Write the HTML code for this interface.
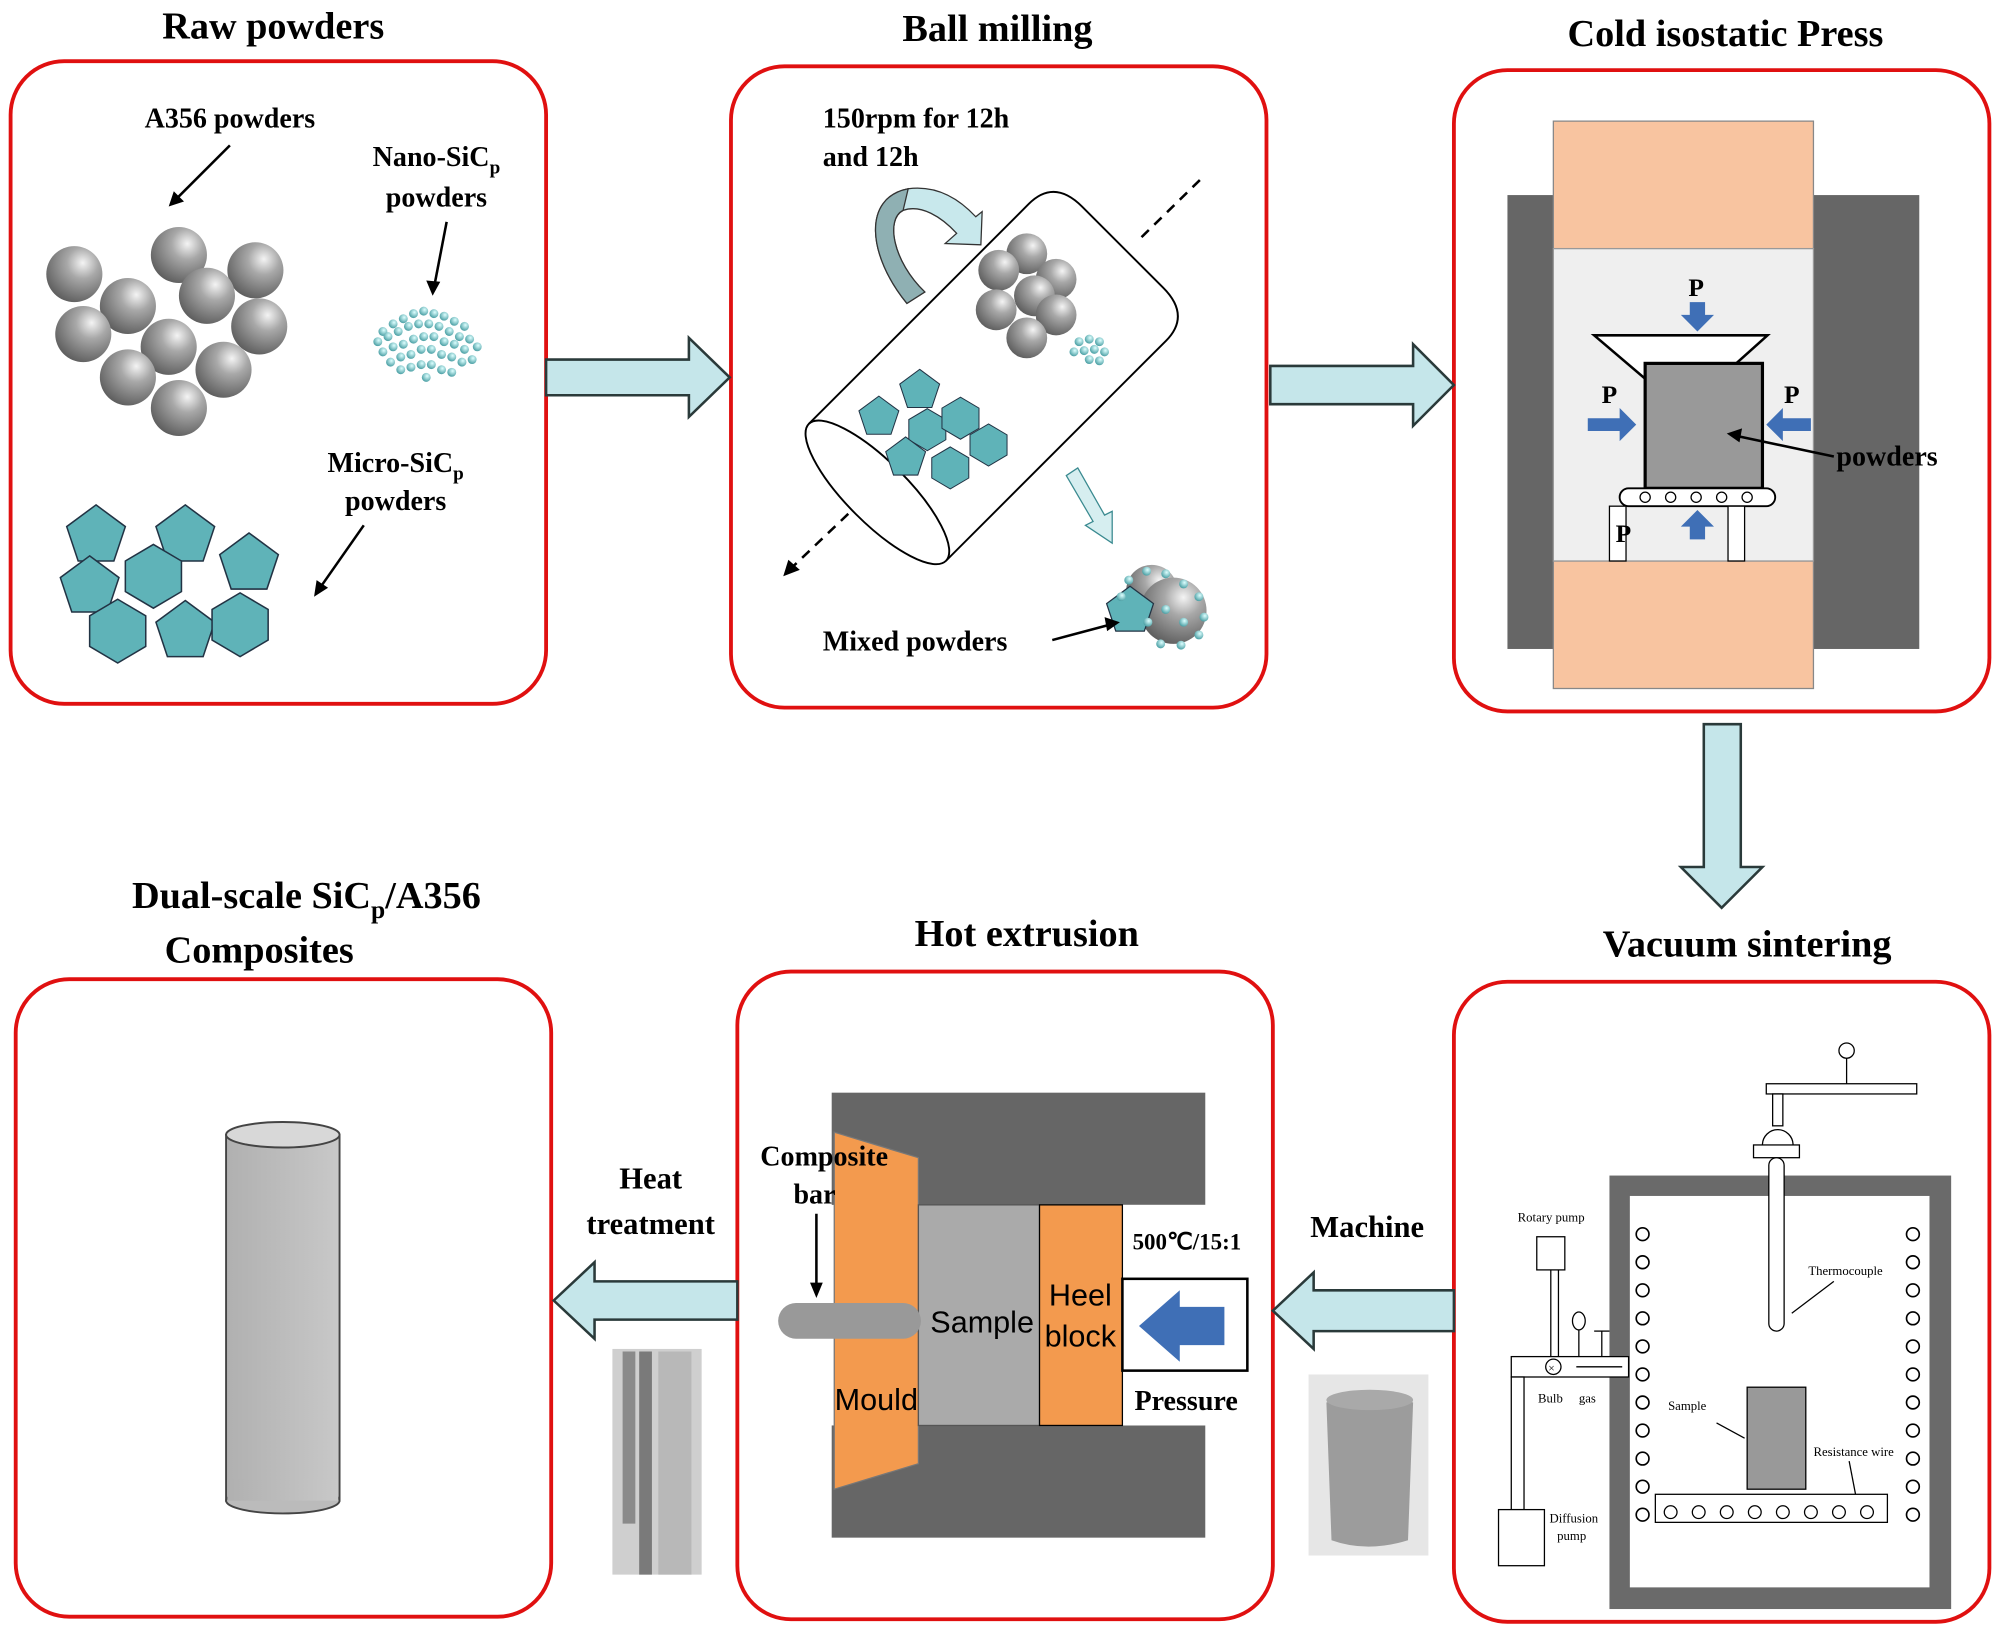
<!DOCTYPE html>
<html><head><meta charset="utf-8"><style>
html,body{margin:0;padding:0;background:#fff;}
svg{display:block;}
text{font-family:"Liberation Serif",serif;font-weight:bold;fill:#000;}
.s{font-family:"Liberation Serif",serif;font-weight:normal;}
</style></head><body>
<svg width="2000" height="1632" viewBox="0 0 1568 1280" xmlns="http://www.w3.org/2000/svg">
<defs>
<radialGradient id="sp" cx="0.65" cy="0.3" r="0.8">
<stop offset="0" stop-color="#f4f4f4"/><stop offset="0.35" stop-color="#a8a8a8"/><stop offset="1" stop-color="#555"/>
</radialGradient>
<radialGradient id="dt" cx="0.6" cy="0.35" r="0.8">
<stop offset="0" stop-color="#dff"/><stop offset="1" stop-color="#2a8a90"/>
</radialGradient>
<linearGradient id="cyl" x1="0" x2="1">
<stop offset="0" stop-color="#b0b0b0"/><stop offset="1" stop-color="#c8c8c8"/>
</linearGradient>
<g id="pent"><polygon points="0,-24 23,-7 14,20 -14,20 -23,-7" fill="#5fb3b8" stroke="#234" stroke-width="1.2"/></g>
<g id="hex"><polygon points="0,-25 22,-12 22,12 0,25 -22,12 -22,-12" fill="#5fb3b8" stroke="#234" stroke-width="1.2"/></g>
<g id="ball"><circle r="22" fill="url(#sp)"/></g>
<g id="nd"><circle r="3.5" fill="url(#dt)"/></g>
</defs>

<!-- titles -->
<text x="214" y="30" font-size="30" text-anchor="middle">Raw powders</text>
<text x="782" y="32" font-size="30" text-anchor="middle">Ball milling</text>
<text x="1353" y="36" font-size="30" text-anchor="middle">Cold isostatic Press</text>
<text x="1370" y="750" font-size="30" text-anchor="middle">Vacuum sintering</text>
<text x="805" y="742" font-size="30" text-anchor="middle">Hot extrusion</text>
<text x="240" y="712" font-size="30" text-anchor="middle">Dual-scale SiC<tspan font-size="20" dy="8">p</tspan><tspan dy="-8">/A356</tspan></text>
<text x="203" y="755" font-size="30" text-anchor="middle">Composites</text>

<!-- boxes -->
<g fill="none" stroke="#e01010" stroke-width="3">
<rect x="8" y="48" width="420" height="504" rx="42"/>
<rect x="573" y="52" width="420" height="503" rx="42"/>
<rect x="1140" y="55" width="420" height="503" rx="42"/>
<rect x="1140" y="770" width="420" height="502" rx="42"/>
<rect x="578" y="762" width="420" height="508" rx="42"/>
<rect x="12" y="768" width="420" height="500" rx="42"/>
</g>

<!-- arrows -->
<g fill="#c5e6ea" stroke="#2a3a3a" stroke-width="2">
<polygon points="428,282 540,282 540,265 572,296 540,327 540,310 428,310"/>
<polygon points="996,287 1108,287 1108,270 1140,302 1108,334 1108,317 996,317"/>
<polygon points="1336,568 1365,568 1365,680 1382,680 1350,712 1318,680 1336,680"/>
<polygon points="1140,1012 1030,1012 1030,998 998,1028 1030,1058 1030,1044 1140,1044"/>
<polygon points="578,1005 466,1005 466,990 434,1020 466,1050 466,1035 578,1035"/>
</g>

<!-- Box1 content -->
<text x="180" y="100" font-size="22" text-anchor="middle">A356 powders</text>
<line x1="180" y1="114" x2="136" y2="158" stroke="#000" stroke-width="2"/>
<polygon points="132,162 136,150 144,158" fill="#000"/>
<use href="#ball" x="58" y="215"/><use href="#ball" x="100" y="240"/><use href="#ball" x="140" y="200"/>
<use href="#ball" x="200" y="212"/><use href="#ball" x="162" y="232"/><use href="#ball" x="65" y="262"/>
<use href="#ball" x="132" y="272"/><use href="#ball" x="203" y="256"/><use href="#ball" x="100" y="296"/>
<use href="#ball" x="175" y="290"/><use href="#ball" x="140" y="320"/>
<text x="342" y="130" font-size="22" text-anchor="middle">Nano-SiC<tspan font-size="15" dy="6">p</tspan></text>
<text x="342" y="162" font-size="22" text-anchor="middle">powders</text>
<line x1="350" y1="174" x2="340" y2="226" stroke="#000" stroke-width="2"/>
<polygon points="339,232 334,220 345,221" fill="#000"/>
<g>
<use href="#nd" x="300" y="260"/><use href="#nd" x="308" y="254"/><use href="#nd" x="316" y="250"/><use href="#nd" x="324" y="246"/><use href="#nd" x="332" y="244"/><use href="#nd" x="340" y="246"/><use href="#nd" x="348" y="248"/><use href="#nd" x="356" y="252"/><use href="#nd" x="364" y="256"/>
<use href="#nd" x="296" y="268"/><use href="#nd" x="304" y="264"/><use href="#nd" x="312" y="260"/><use href="#nd" x="320" y="256"/><use href="#nd" x="328" y="254"/><use href="#nd" x="336" y="254"/><use href="#nd" x="344" y="256"/><use href="#nd" x="352" y="260"/><use href="#nd" x="360" y="264"/><use href="#nd" x="368" y="266"/><use href="#nd" x="374" y="272"/>
<use href="#nd" x="300" y="276"/><use href="#nd" x="308" y="272"/><use href="#nd" x="316" y="270"/><use href="#nd" x="324" y="266"/><use href="#nd" x="332" y="264"/><use href="#nd" x="340" y="264"/><use href="#nd" x="348" y="268"/><use href="#nd" x="356" y="270"/><use href="#nd" x="364" y="274"/><use href="#nd" x="370" y="282"/>
<use href="#nd" x="306" y="284"/><use href="#nd" x="314" y="280"/><use href="#nd" x="322" y="278"/><use href="#nd" x="330" y="274"/><use href="#nd" x="338" y="274"/><use href="#nd" x="346" y="278"/><use href="#nd" x="354" y="280"/><use href="#nd" x="362" y="284"/>
<use href="#nd" x="314" y="290"/><use href="#nd" x="322" y="288"/><use href="#nd" x="330" y="286"/><use href="#nd" x="338" y="286"/><use href="#nd" x="346" y="290"/><use href="#nd" x="354" y="292"/><use href="#nd" x="334" y="296"/>
</g>
<text x="310" y="370" font-size="22" text-anchor="middle">Micro-SiC<tspan font-size="15" dy="6">p</tspan></text>
<text x="310" y="400" font-size="22" text-anchor="middle">powders</text>
<line x1="285" y1="412" x2="250" y2="462" stroke="#000" stroke-width="2"/>
<polygon points="246,468 248,455 257,461" fill="#000"/>
<use href="#pent" x="75" y="420"/><use href="#pent" x="145" y="420"/><use href="#pent" x="195" y="442"/>
<use href="#pent" x="70" y="460"/><use href="#hex" x="120" y="452"/><use href="#hex" x="92" y="495"/>
<use href="#pent" x="145" y="495"/><use href="#hex" x="188" y="490"/>

<!-- Box2 content -->
<text x="645" y="100" font-size="22">150rpm for 12h</text>
<text x="645" y="130" font-size="22">and 12h</text>
<line x1="895" y1="186" x2="941" y2="141" stroke="#000" stroke-width="2" stroke-dasharray="8,6"/>
<line x1="665" y1="403" x2="622" y2="444" stroke="#000" stroke-width="2" stroke-dasharray="8,6"/>
<polygon points="614,452 618,439 627,447" fill="#000"/>
<g transform="translate(784,290) rotate(-45)">
<path d="M-136,-76 L108,-76 Q136,-76 136,-45 L136,45 Q136,76 108,76 L-136,76" fill="none" stroke="#000" stroke-width="1.5"/>
<ellipse cx="-136" cy="0" rx="24" ry="76" fill="#fff" stroke="#000" stroke-width="1.5"/>
</g>
<path d="M711,238 C680,200 676,155 712,148 C735,145 752,156 765,170 L770,166 L769,192 L741,191 L750,183 C738,170 722,160 708,165 C694,172 700,205 725,229 Z" fill="#c8e8ec" stroke="#333" stroke-width="1"/>
<path d="M711,238 C680,200 676,155 712,148 L708,165 C694,172 700,205 725,229 Z" fill="#8fb0b3" stroke="#333" stroke-width="1"/>
<circle cx="805" cy="199" r="16" fill="url(#sp)"/><circle cx="783" cy="212" r="16" fill="url(#sp)"/><circle cx="828" cy="219" r="16" fill="url(#sp)"/>
<circle cx="811" cy="232" r="16" fill="url(#sp)"/><circle cx="781" cy="243" r="16" fill="url(#sp)"/><circle cx="828" cy="247" r="16" fill="url(#sp)"/>
<circle cx="805" cy="265" r="16" fill="url(#sp)"/>
<g><use href="#nd" x="846" y="268"/><use href="#nd" x="854" y="266"/><use href="#nd" x="862" y="268"/><use href="#nd" x="850" y="275"/><use href="#nd" x="858" y="274"/><use href="#nd" x="866" y="276"/><use href="#nd" x="854" y="282"/><use href="#nd" x="862" y="283"/><use href="#nd" x="842" y="276"/></g>
<g transform="translate(721,306) scale(0.68)"><use href="#pent"/></g>
<g transform="translate(689,327) scale(0.68)"><use href="#pent"/></g>
<g transform="translate(727,337) scale(0.66)"><use href="#hex"/></g>
<g transform="translate(753,328) scale(0.66)"><use href="#hex"/></g>
<g transform="translate(775,349) scale(0.66)"><use href="#hex"/></g>
<g transform="translate(710,359) scale(0.68)"><use href="#pent"/></g>
<g transform="translate(745,367) scale(0.66)"><use href="#hex"/></g>
<polygon points="836,373 845,367 866,404 872,401 872,426 851,412 857,409" fill="#d6eef0" stroke="#3a8a90" stroke-width="1"/>
<circle cx="903" cy="463" r="20" fill="url(#sp)"/>
<circle cx="920" cy="479" r="26" fill="url(#sp)"/>
<g transform="translate(886,479) scale(0.8)"><use href="#pent"/></g>
<g><use href="#nd" x="885" y="455"/><use href="#nd" x="899" y="448"/><use href="#nd" x="914" y="450"/><use href="#nd" x="928" y="458"/><use href="#nd" x="940" y="468"/><use href="#nd" x="944" y="484"/><use href="#nd" x="940" y="498"/><use href="#nd" x="926" y="506"/><use href="#nd" x="910" y="505"/><use href="#nd" x="914" y="478"/><use href="#nd" x="928" y="488"/><use href="#nd" x="900" y="488"/><use href="#nd" x="879" y="468"/></g>
<text x="645" y="510" font-size="22">Mixed powders</text>
<line x1="825" y1="502" x2="870" y2="490" stroke="#000" stroke-width="2"/>
<polygon points="878,488 866,484 868,495" fill="#000"/>

<!-- Box3 content -->
<rect x="1182" y="153" width="78" height="356" fill="#666"/>
<rect x="1420" y="153" width="85" height="356" fill="#666"/>
<rect x="1218" y="95" width="204" height="100" fill="#f8c4a0" stroke="#888"/>
<rect x="1218" y="440" width="204" height="100" fill="#f8c4a0" stroke="#888"/>
<rect x="1218" y="195" width="204" height="245" fill="#efefef" stroke="#999"/>
<polygon points="1250,263 1386,263 1348,297 1290,297" fill="#fff" stroke="#000" stroke-width="2"/>
<rect x="1290" y="285" width="92" height="98" fill="#999" stroke="#000" stroke-width="2.5"/>
<rect x="1270" y="383" width="122" height="14" rx="7" fill="#fff" stroke="#000" stroke-width="1.5"/>
<g fill="#fff" stroke="#000" stroke-width="1"><circle cx="1290" cy="390" r="4"/><circle cx="1310" cy="390" r="4"/><circle cx="1330" cy="390" r="4"/><circle cx="1350" cy="390" r="4"/><circle cx="1370" cy="390" r="4"/></g>
<rect x="1262" y="397" width="13" height="43" fill="#fff" stroke="#000"/>
<rect x="1355" y="397" width="13" height="43" fill="#fff" stroke="#000"/>
<g fill="#3f6fb6">
<polygon points="1325,237 1337,237 1337,247 1344,247 1331,260 1318,247 1325,247"/>
<polygon points="1325,423 1337,423 1337,413 1344,413 1331,400 1318,413 1325,413"/>
<polygon points="1245,328 1270,328 1270,320 1283,333 1270,346 1270,338 1245,338"/>
<polygon points="1420,328 1398,328 1398,320 1385,333 1398,346 1398,338 1420,338"/>
</g>
<text x="1330" y="232" font-size="20" text-anchor="middle">P</text>
<text x="1262" y="316" font-size="20" text-anchor="middle">P</text>
<text x="1405" y="316" font-size="20" text-anchor="middle">P</text>
<text x="1273" y="425" font-size="20" text-anchor="middle">P</text>
<text x="1440" y="365" font-size="22">powders</text>
<line x1="1438" y1="358" x2="1362" y2="342" stroke="#000" stroke-width="2"/>
<polygon points="1354,340 1366,336 1364,347" fill="#000"/>

<!-- Box4 vacuum -->
<rect x="1262" y="922" width="268" height="340" fill="#6a6a6a"/>
<rect x="1278" y="938" width="235" height="307" fill="#fff"/>
<rect x="1385" y="850" width="118" height="8" fill="#fff" stroke="#000"/>
<line x1="1448" y1="850" x2="1448" y2="830" stroke="#000"/><circle cx="1448" cy="824" r="6" fill="#fff" stroke="#000"/>
<rect x="1390" y="858" width="8" height="25" fill="#fff" stroke="#000"/>
<path d="M1382,898 A12,12 0 0 1 1406,898" fill="#fff" stroke="#000"/>
<rect x="1375" y="898" width="36" height="10" fill="#fff" stroke="#000"/>
<rect x="1387" y="908" width="12" height="136" rx="6" fill="#fff" stroke="#000"/>
<g fill="#fff" stroke="#000" stroke-width="1.3">
<circle cx="1288" cy="968" r="5"/><circle cx="1288" cy="990" r="5"/><circle cx="1288" cy="1012" r="5"/><circle cx="1288" cy="1034" r="5"/><circle cx="1288" cy="1056" r="5"/><circle cx="1288" cy="1078" r="5"/><circle cx="1288" cy="1100" r="5"/><circle cx="1288" cy="1122" r="5"/><circle cx="1288" cy="1144" r="5"/><circle cx="1288" cy="1166" r="5"/><circle cx="1288" cy="1188" r="5"/>
<circle cx="1500" cy="968" r="5"/><circle cx="1500" cy="990" r="5"/><circle cx="1500" cy="1012" r="5"/><circle cx="1500" cy="1034" r="5"/><circle cx="1500" cy="1056" r="5"/><circle cx="1500" cy="1078" r="5"/><circle cx="1500" cy="1100" r="5"/><circle cx="1500" cy="1122" r="5"/><circle cx="1500" cy="1144" r="5"/><circle cx="1500" cy="1166" r="5"/><circle cx="1500" cy="1188" r="5"/>
</g>
<rect x="1298" y="1172" width="182" height="22" fill="#fff" stroke="#000"/>
<g fill="#fff" stroke="#000"><circle cx="1310" cy="1186" r="5"/><circle cx="1332" cy="1186" r="5"/><circle cx="1354" cy="1186" r="5"/><circle cx="1376" cy="1186" r="5"/><circle cx="1398" cy="1186" r="5"/><circle cx="1420" cy="1186" r="5"/><circle cx="1442" cy="1186" r="5"/><circle cx="1464" cy="1186" r="5"/></g>
<rect x="1370" y="1088" width="46" height="80" fill="#999" stroke="#000"/>
<text class="s" x="1418" y="1000" font-size="10">Thermocouple</text>
<line x1="1438" y1="1005" x2="1405" y2="1030" stroke="#000"/>
<text class="s" x="1308" y="1106" font-size="10">Sample</text>
<line x1="1346" y1="1116" x2="1368" y2="1128" stroke="#000"/>
<text class="s" x="1422" y="1142" font-size="10">Resistance wire</text>
<line x1="1450" y1="1146" x2="1455" y2="1172" stroke="#000"/>
<rect x="1205" y="970" width="22" height="26" fill="#fff" stroke="#000"/>
<text class="s" x="1190" y="958" font-size="10">Rotary pump</text>
<line x1="1216" y1="996" x2="1216" y2="1064" stroke="#000"/><line x1="1222" y1="996" x2="1222" y2="1064" stroke="#000"/>
<rect x="1185" y="1064" width="92" height="16" fill="#fff" stroke="#000"/>
<circle cx="1218" cy="1072" r="6" fill="#fff" stroke="#000"/>
<text class="s" x="1214" y="1076" font-size="9">×</text>
<line x1="1238" y1="1064" x2="1238" y2="1042" stroke="#000"/><ellipse cx="1238" cy="1036" rx="5" ry="7" fill="#fff" stroke="#000"/>
<line x1="1256" y1="1064" x2="1256" y2="1044" stroke="#000"/><line x1="1250" y1="1044" x2="1262" y2="1044" stroke="#000"/>
<line x1="1272" y1="1072" x2="1236" y2="1072" stroke="#000"/>
<rect x="1185" y="1080" width="10" height="104" fill="#fff" stroke="#000"/>
<rect x="1175" y="1184" width="36" height="44" fill="#fff" stroke="#000"/>
<text class="s" x="1206" y="1100" font-size="10">Bulb</text>
<text class="s" x="1238" y="1100" font-size="10">gas</text>
<text class="s" x="1215" y="1194" font-size="10">Diffusion</text>
<text class="s" x="1221" y="1208" font-size="10">pump</text>

<!-- machine label + photo -->
<text x="1072" y="970" font-size="24" text-anchor="middle">Machine</text>
<rect x="1026" y="1078" width="94" height="142" fill="#e6e6e6"/>
<path d="M1040,1100 Q1075,1088 1108,1100 L1104,1208 Q1072,1218 1044,1208 Z" fill="#9c9c9c"/>
<ellipse cx="1074" cy="1098" rx="34" ry="8" fill="#a9a9a9"/>

<!-- Box5 hot extrusion -->
<rect x="652" y="857" width="293" height="88" fill="#666"/>
<rect x="652" y="1118" width="293" height="88" fill="#666"/>
<rect x="710" y="945" width="235" height="173" fill="#fff"/>
<polygon points="654,888 720,908 720,1148 654,1168" fill="#f39a4e" stroke="#777"/>
<rect x="720" y="945" width="95" height="173" fill="#aaa" stroke="#555"/>
<rect x="815" y="945" width="65" height="173" fill="#f39a4e" stroke="#000"/>
<rect x="880" y="1003" width="98" height="72" fill="#fff" stroke="#000" stroke-width="2"/>
<polygon points="960,1025 925,1025 925,1012 893,1040 925,1068 925,1055 960,1055" fill="#3f6fb6"/>
<rect x="610" y="1022" width="112" height="28" rx="14" fill="#999"/>
<text class="s" x="770" y="1045" font-size="24" text-anchor="middle" style="font-family:'Liberation Sans Narrow','Liberation Sans',sans-serif">Sample</text>
<text class="s" x="847" y="1024" font-size="24" text-anchor="middle" style="font-family:'Liberation Sans Narrow','Liberation Sans',sans-serif">Heel</text>
<text class="s" x="847" y="1056" font-size="24" text-anchor="middle" style="font-family:'Liberation Sans Narrow','Liberation Sans',sans-serif">block</text>
<text class="s" x="687" y="1106" font-size="24" text-anchor="middle" style="font-family:'Liberation Sans Narrow','Liberation Sans',sans-serif">Mould</text>
<text x="888" y="980" font-size="18">500℃/15:1</text>
<text x="930" y="1106" font-size="22" text-anchor="middle">Pressure</text>
<text x="596" y="914" font-size="22">Composite</text>
<text x="622" y="944" font-size="22">bar</text>
<line x1="640" y1="952" x2="640" y2="1010" stroke="#000" stroke-width="2"/>
<polygon points="640,1018 635,1006 645,1006" fill="#000"/>

<!-- heat treatment -->
<text x="510" y="932" font-size="24" text-anchor="middle">Heat</text>
<text x="510" y="968" font-size="24" text-anchor="middle">treatment</text>
<rect x="480" y="1058" width="70" height="177" fill="#cfcfcf"/>
<rect x="488" y="1060" width="10" height="135" fill="#8a8a8a"/>
<rect x="501" y="1060" width="10" height="175" fill="#7a7a7a"/>
<rect x="516" y="1060" width="26" height="175" fill="#b8b8b8"/>

<!-- Box6 cylinder -->
<rect x="177" y="890" width="89" height="287" fill="url(#cyl)" stroke="#444" stroke-width="1.5"/>
<ellipse cx="221.5" cy="1177" rx="44.5" ry="10" fill="#bbb" stroke="#444" stroke-width="1.5"/>
<rect x="178" y="1160" width="87" height="17" fill="url(#cyl)"/>
<ellipse cx="221.5" cy="890" rx="44.5" ry="10" fill="#d8d8d8" stroke="#444" stroke-width="1.5"/>
</svg>
</body></html>
